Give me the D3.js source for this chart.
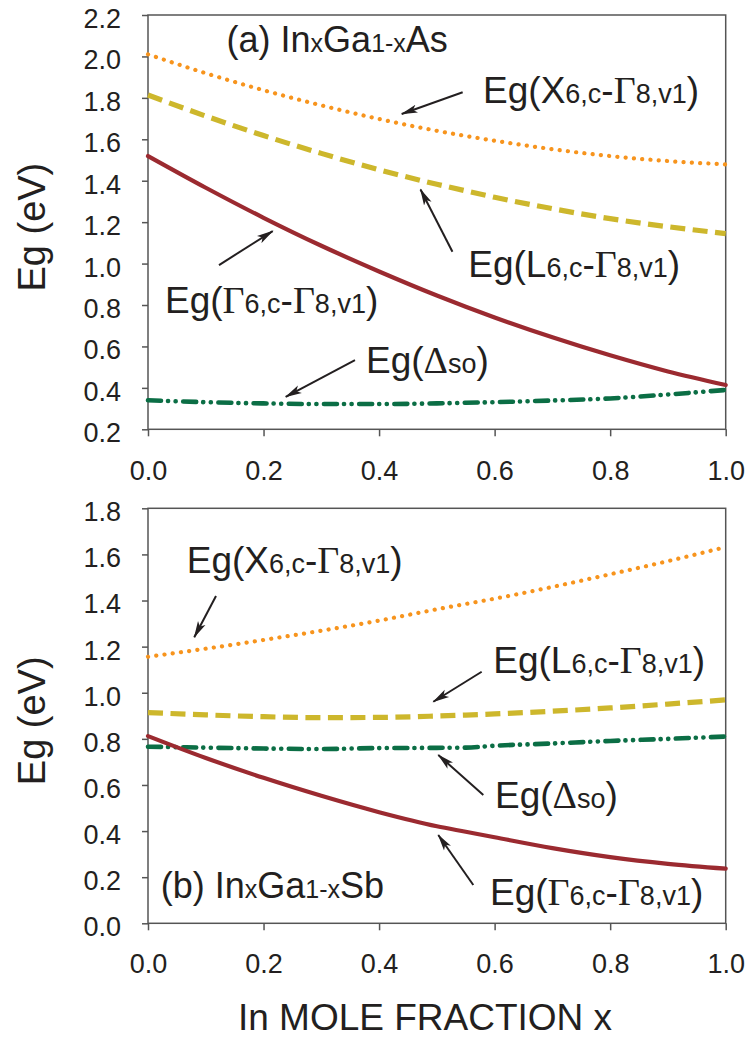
<!DOCTYPE html>
<html>
<head>
<meta charset="utf-8">
<script src="https://cdn.jsdelivr.net/npm/d3@7"></script>
<style>
  body { margin: 0; background: #fff; }
  svg text { font-family: "Liberation Sans", Arial, sans-serif; fill: #231f20; }
  .big { font-size: 37px; }
  .small { font-size: 27px; }
  .greek { font-family: "Liberation Serif", "Times New Roman", serif; font-size: 38px; }
</style>
</head>
<body>
<svg id="chart" width="746" height="1041"></svg>
<script>
// In mole fraction x
const moleFraction = [0, 0.1, 0.2, 0.3, 0.4, 0.5, 0.55, 0.6, 0.7, 0.8, 0.9, 1.0];

// (a) InxGa1-xAs band energies (eV)
const gammaAs = [1.519, 1.366, 1.221, 1.086, 0.962, 0.846, 0.792, 0.740, 0.644, 0.557, 0.479, 0.414];
const lAs     = [1.814, 1.712, 1.618, 1.532, 1.453, 1.383, 1.351, 1.320, 1.265, 1.217, 1.178, 1.145];
const xAs     = [2.010, 1.919, 1.837, 1.764, 1.698, 1.641, 1.616, 1.593, 1.552, 1.519, 1.495, 1.479];
const dsoAs   = [0.340, 0.331, 0.325, 0.322, 0.322, 0.325, 0.328, 0.331, 0.339, 0.349, 0.368, 0.390];

// (b) InxGa1-xSb band energies (eV)
const gammaSb = [0.812, 0.717, 0.631, 0.553, 0.482, 0.421, 0.397, 0.373, 0.326, 0.287, 0.258, 0.237];
const lSb     = [0.914, 0.904, 0.896, 0.892, 0.893, 0.899, 0.903, 0.908, 0.920, 0.934, 0.951, 0.969];
const xSb     = [1.156, 1.191, 1.229, 1.269, 1.313, 1.362, 1.385, 1.408, 1.459, 1.514, 1.571, 1.632];
const dsoSb   = [0.766, 0.762, 0.758, 0.756, 0.760, 0.761, 0.762, 0.770, 0.780, 0.791, 0.800, 0.810];

// Tick values
const xTicks  = [0, 0.2, 0.4, 0.6, 0.8, 1.0];
const yTicksA = [0.2, 0.4, 0.6, 0.8, 1.0, 1.2, 1.4, 1.6, 1.8, 2.0, 2.2];
const yTicksB = [0.0, 0.2, 0.4, 0.6, 0.8, 1.0, 1.2, 1.4, 1.6, 1.8];

const colors = { x: "#f7941d", l: "#cdb72c", gamma: "#9b2a30", dso: "#0b6e45" };
const styles = {
  x:     { width: 4.2, dash: "0.1 8.2", cap: "round" },
  l:     { width: 5.2, dash: "15 7.5", cap: "butt" },
  gamma: { width: 4.2, dash: null, cap: "round" },
  dso:   { width: 4.6, dash: "13 7 0.1 7.5 0.1 7.5", cap: "round" }
};

const svg = d3.select("#chart");
const fmt = d3.format(".1f");

svg.append("defs").append("marker")
  .attr("id", "head")
  .attr("markerUnits", "userSpaceOnUse")
  .attr("viewBox", "0 -5 18 10")
  .attr("refX", 16).attr("refY", 0)
  .attr("markerWidth", 18).attr("markerHeight", 10)
  .attr("orient", "auto")
  .append("path")
  .attr("d", "M0,-4.2 L17,0 L0,4.2 L4,0 Z")
  .attr("fill", "#231f20");

// label parts: [text, class]
const P = {
  X: [["Eg(X", "big"], ["6,c", "small"], ["-", "big"], ["Γ", "greek"], ["8,v1", "small"], [")", "big"]],
  L: [["Eg(L", "big"], ["6,c", "small"], ["-", "big"], ["Γ", "greek"], ["8,v1", "small"], [")", "big"]],
  G: [["Eg(", "big"], ["Γ", "greek"], ["6,c", "small"], ["-", "big"], ["Γ", "greek"], ["8,v1", "small"], [")", "big"]],
  D: [["Eg(", "big"], ["Δ", "greek"], ["so", "small"], [")", "big"]]
};

const panels = [
  {
    top: 15, bottom: 429.3, domain: [0.2, 2.2], yTicks: yTicksA, xLabelPad: 25,
    series: [["x", xAs], ["l", lAs], ["dso", dsoAs], ["gamma", gammaAs]],
    title: { x: 0.136, y: 2.023, parts: [["(a) In", "t"], ["x", "ts"], ["Ga", "t"], ["1-x", "ts"], ["As", "t"]] },
    notes: [
      { parts: P.X, at: [0.580, 1.774], from: [0.5447, 1.827], to: [0.4392, 1.722] },
      { parts: P.L, at: [0.5544, 0.936], from: [0.527, 1.057], to: [0.4717, 1.358] },
      { parts: P.G, at: [0.0294, 0.760], from: [0.1229, 0.993], to: [0.2159, 1.157] },
      { parts: P.D, at: [0.3774, 0.470], from: [0.3583, 0.534], to: [0.2384, 0.357] }
    ]
  },
  {
    top: 508.3, bottom: 923.3, domain: [0, 1.8], yTicks: yTicksB, xLabelPad: 24,
    series: [["x", xSb], ["l", lSb], ["dso", dsoSb], ["gamma", gammaSb]],
    title: { x: 0.022, y: 0.109, parts: [["(b) In", "t"], ["x", "ts"], ["Ga", "t"], ["1-x", "ts"], ["Sb", "t"]] },
    notes: [
      { parts: P.X, at: [0.067, 1.518], from: [0.1177, 1.420], to: [0.0801, 1.241] },
      { parts: P.L, at: [0.5977, 1.087], from: [0.5776, 1.091], to: [0.4939, 0.961] },
      { parts: P.D, at: [0.6007, 0.499], from: [0.5804, 0.557], to: [0.5025, 0.730] },
      { parts: P.G, at: [0.592, 0.080], from: [0.5631, 0.166], to: [0.5025, 0.383] }
    ]
  }
];

const x = d3.scaleLinear().domain([0, 1]).range([148, 725.7]);

panels.forEach(p => {
  const y = d3.scaleLinear().domain(p.domain).range([p.bottom, p.top]);
  const g = svg.append("g");

  // frame
  g.append("rect")
    .attr("x", x(0)).attr("y", p.top)
    .attr("width", x(1) - x(0)).attr("height", p.bottom - p.top)
    .attr("fill", "none").attr("stroke", "#555").attr("stroke-width", 1.5);

  // y axis
  const ya = g.append("g").attr("transform", `translate(${x(0)},0)`)
    .call(d3.axisLeft(y).tickValues(p.yTicks).tickFormat(fmt).tickSize(6).tickSizeOuter(0).tickPadding(21));
  ya.select(".domain").remove();
  ya.selectAll(".tick line").attr("stroke", "#555").attr("stroke-width", 1.5);
  ya.selectAll(".tick text").attr("font-size", 27).attr("dy", "0.46em")
    .attr("font-family", "Liberation Sans, Arial, sans-serif").attr("fill", "#231f20");

  // x axis
  const xa = g.append("g").attr("transform", `translate(0,${p.bottom})`)
    .call(d3.axisBottom(x).tickValues(xTicks).tickFormat(fmt).tickSize(7).tickSizeOuter(0).tickPadding(p.xLabelPad));
  xa.select(".domain").remove();
  xa.selectAll(".tick line").attr("stroke", "#555").attr("stroke-width", 1.5);
  xa.selectAll(".tick text").attr("font-size", 27)
    .attr("font-family", "Liberation Sans, Arial, sans-serif").attr("fill", "#231f20");

  // curves
  const line = d3.line()
    .x((d, i) => x(moleFraction[i]))
    .y(d => y(d))
    .curve(d3.curveMonotoneX);

  p.series.forEach(([key, vals]) => {
    const s = styles[key];
    g.append("path")
      .datum(vals)
      .attr("d", line)
      .attr("fill", "none")
      .attr("stroke", colors[key])
      .attr("stroke-width", s.width)
      .attr("stroke-linecap", s.cap)
      .attr("stroke-dasharray", s.dash);
  });

  // panel title
  const t = g.append("text").attr("x", x(p.title.x)).attr("y", y(p.title.y));
  p.title.parts.forEach(([txt, c]) => {
    t.append("tspan").text(txt).style("font-size", c === "t" ? "36px" : "25px");
  });

  // annotations
  p.notes.forEach(n => {
    g.append("line")
      .attr("x1", x(n.from[0])).attr("y1", y(n.from[1]))
      .attr("x2", x(n.to[0])).attr("y2", y(n.to[1]))
      .attr("stroke", "#231f20").attr("stroke-width", 2)
      .attr("marker-end", "url(#head)");
    const lbl = g.append("text").attr("x", x(n.at[0])).attr("y", y(n.at[1]));
    n.parts.forEach(([txt, c]) => lbl.append("tspan").attr("class", c).text(txt));
  });

  // y axis title
  svg.append("text")
    .attr("transform", `translate(45,${(p.top + p.bottom) / 2 + 5}) rotate(-90)`)
    .attr("text-anchor", "middle")
    .attr("font-size", 38)
    .text("Eg (eV)");
});

// x axis title
svg.append("text")
  .attr("x", 425).attr("y", 1030)
  .attr("text-anchor", "middle")
  .attr("font-size", 37)
  .text("In MOLE FRACTION x");
</script>
</body>
</html>
